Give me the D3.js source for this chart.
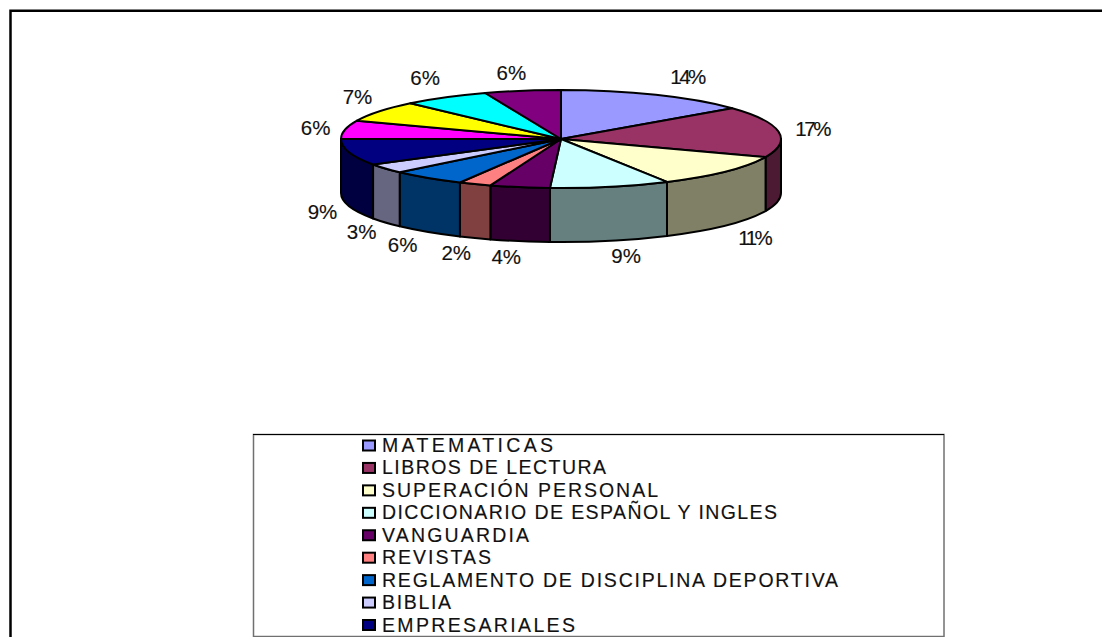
<!DOCTYPE html>
<html>
<head>
<meta charset="utf-8">
<script src="https://cdn.jsdelivr.net/npm/d3@7"></script>
<style>
  html, body { margin: 0; padding: 0; background: #fff; overflow: hidden; }
  text { font-family: "Liberation Sans", Arial, sans-serif; fill: #111; stroke: #111; stroke-width: 0.15px; }
</style>
</head>
<body>
<div id="chart"></div>
<script>
const width = 1102;
const height = 637;

const categories = ['MATEMATICAS', 'LIBROS DE LECTURA', 'SUPERACIÓN PERSONAL',
  'DICCIONARIO DE ESPAÑOL Y INGLES', 'VANGUARDIA', 'REVISTAS',
  'REGLAMENTO DE DISCIPLINA DEPORTIVA', 'BIBLIA', 'EMPRESARIALES',
  'otros 1', 'otros 2', 'otros 3', 'otros 4'];
const values = [14.2, 16.8, 11, 8.8, 4.4, 2.4, 5.5, 3.2, 8.7, 6.1, 6.9, 6.4, 5.6];
const colors = ['#9999ff', '#993366', '#ffffcc', '#ccffff', '#660066', '#ff8080',
  '#0066cc', '#ccccff', '#000080', '#ff00ff', '#ffff00', '#00ffff', '#800080'];

// the legend is cut by the bottom of the picture, only 9 rows show
const legendNames = categories.slice(0, 9);
const legendTextWidths = [171, 224, 276, 395, 147, 109, 456, 69, 193];

// hand nudges for the percent labels
const labelDx = [16, -1, 2, 8, -7, -5, -4, 4, 7, 5, 7, -2, -5];
const labelDy = [1, 0, 0, -1, 0, -1, -1, -2, -1, 2, -3, -2, 2];

const cx = 561;
const cy = 139;
const rx = 220;
const ry = 49;
const depth = 54;
const labelDepth = 57;

const point = (a, dy = 0) => [cx + rx * Math.sin(a), cy - ry * Math.cos(a) + dy];

const color = d3.scaleOrdinal().domain(categories).range(colors);
const shade = name => {
  const c = d3.rgb(color(name));
  return d3.rgb(c.r / 2, c.g / 2, c.b / 2).formatHex();
};

const slices = d3.pie().sort(null).value((d, i) => values[i])(categories);

const svg = d3.select('#chart').append('svg')
  .attr('width', width)
  .attr('height', height)
  .style('display', 'block');

// outer frame, only left and top show
svg.append('path')
  .attr('d', `M10.5 ${height}V10.75H${width}`)
  .attr('fill', 'none')
  .attr('stroke', '#000')
  .attr('stroke-width', 2.5);

// side wall, only the part facing the viewer
const wallPath = d => {
  const a0 = Math.max(d.startAngle, Math.PI / 2);
  const a1 = Math.min(d.endAngle, Math.PI * 3 / 2);
  if (a1 <= a0) return null;
  const p0 = point(a0), p1 = point(a1), q1 = point(a1, depth), q0 = point(a0, depth);
  return `M${p0}A${rx} ${ry} 0 0 1 ${p1}L${q1}A${rx} ${ry} 0 0 0 ${q0}Z`;
};

svg.append('g').selectAll('path')
  .data(slices.filter(d => wallPath(d)))
  .join('path')
    .attr('d', wallPath)
    .attr('fill', d => shade(d.data))
    .attr('stroke', '#000')
    .attr('stroke-width', 2)
    .attr('stroke-linejoin', 'round');

// top face, a flat pie squashed into an ellipse
const arc = d3.arc().innerRadius(0).outerRadius(rx);

svg.append('g')
  .attr('transform', `translate(${cx},${cy}) scale(1,${ry / rx})`)
  .selectAll('path')
  .data(slices)
  .join('path')
    .attr('d', arc)
    .attr('fill', d => color(d.data))
    .attr('stroke', '#000')
    .attr('stroke-width', 2)
    .attr('stroke-linejoin', 'round')
    .attr('vector-effect', 'non-scaling-stroke');

// percent labels sit on a wider ellipse, pushed below the wall on the front side
const labelPos = d => {
  const a = (d.startAngle + d.endAngle) / 2;
  const front = Math.cos(a) < 0 && Math.abs(Math.sin(a)) < 0.97;
  return [
    cx + 255 * Math.sin(a) + labelDx[d.index],
    (front ? cy - 62 * Math.cos(a) + labelDepth : cy - 70 * Math.cos(a)) + labelDy[d.index]
  ];
};

svg.append('g').selectAll('text')
  .data(slices)
  .join('text')
    .attr('x', d => labelPos(d)[0])
    .attr('y', d => labelPos(d)[1])
    .attr('text-anchor', 'middle')
    .attr('dominant-baseline', 'central')
    .style('font-size', '20.5px')
    .style('letter-spacing', (d, i) => Math.round(values[i]) >= 10 ? '-2.5px' : null)
    .text((d, i) => Math.round(values[i]) + '%');

// legend
svg.append('rect')
  .attr('x', 253.5)
  .attr('y', 434.5)
  .attr('width', 690.5)
  .attr('height', 202)
  .attr('fill', '#fff')
  .attr('stroke', '#707070')
  .attr('stroke-width', 1.5);

svg.append('line')
  .attr('x1', 253)
  .attr('x2', 944)
  .attr('y1', 434.5)
  .attr('y2', 434.5)
  .attr('stroke', '#000');

const legendY = d3.scalePoint().domain(legendNames).range([445, 624.5]);

const row = svg.append('g').selectAll('g')
  .data(legendNames)
  .join('g')
    .attr('transform', d => `translate(0,${legendY(d)})`);

row.append('rect')
  .attr('x', 363)
  .attr('y', -4.5)
  .attr('width', 12)
  .attr('height', 10)
  .attr('fill', d => color(d))
  .attr('stroke', '#000')
  .attr('stroke-width', 2);

row.append('text')
  .attr('x', 382)
  .attr('dominant-baseline', 'central')
  .attr('textLength', (d, i) => legendTextWidths[i])
  .attr('lengthAdjust', 'spacing')
  .style('font-size', '19.5px')
  .text(d => d);
</script>
</body>
</html>
